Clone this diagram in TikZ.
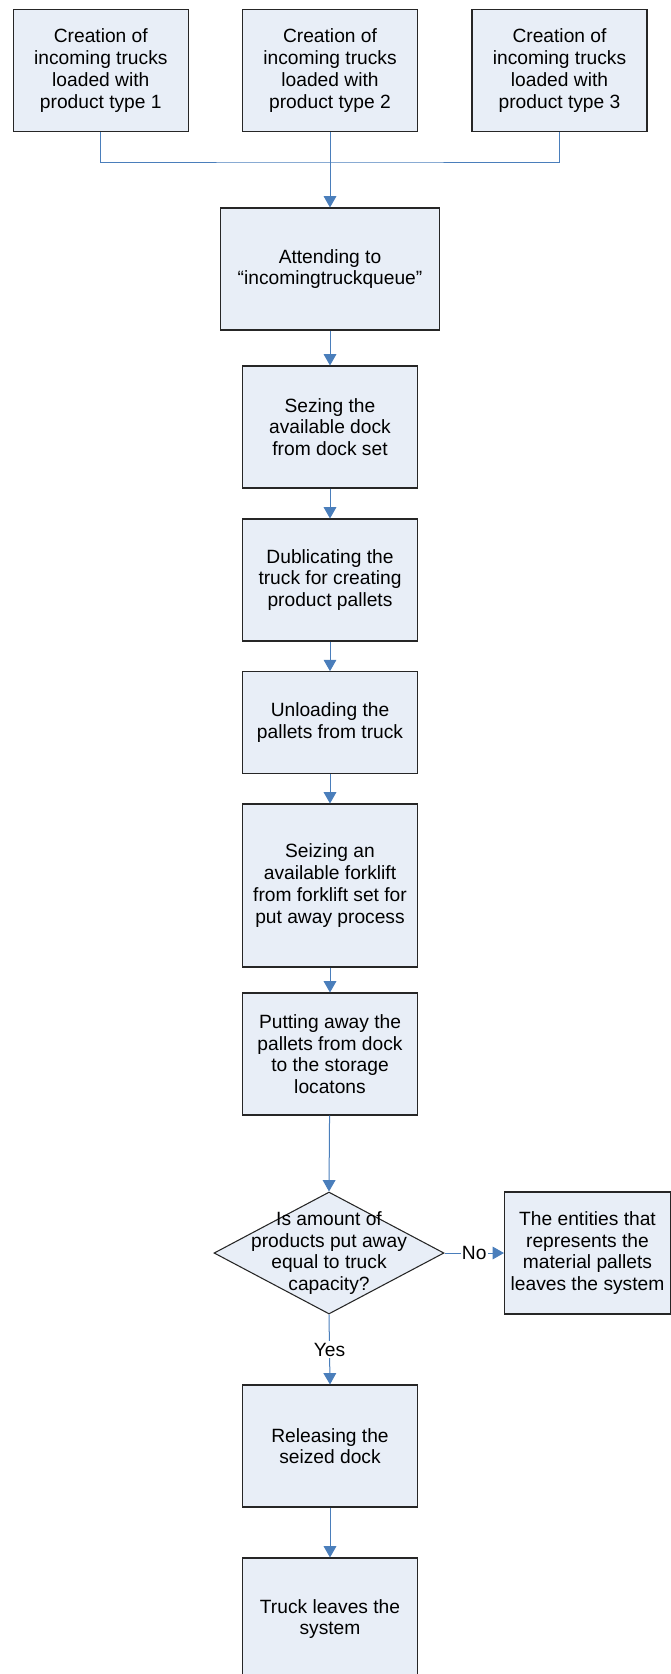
\documentclass[tikz,border=0pt]{standalone}
\usepackage{fontspec}
\setmainfont{Liberation Sans}
\usetikzlibrary{shapes.geometric,arrows.meta}
\definecolor{boxfill}{RGB}{232,238,247}
\definecolor{flowblue}{RGB}{74,126,187}

\begin{document}
\begin{tikzpicture}[x=0.75pt, y=-0.75pt,
    every node/.style={font=\fontsize{14.4}{16.3}\selectfont},
    process/.style={rectangle, draw=black!85, line width=0.8pt, fill=boxfill, align=center,
        minimum width=131.25pt, minimum height=91.5pt, inner sep=0pt},
    decision/.style={diamond, draw=black!85, line width=0.8pt, fill=boxfill,
        minimum width=172.5pt, minimum height=91.5pt, inner sep=0pt},
    link/.style={draw=flowblue, line width=0.75pt},
    flow/.style={link, -{Triangle[length=8.5pt, width=9.5pt]}}]
                \useasboundingbox (0,0) rectangle (671,1674);
                \clip (0,0) rectangle (671,1674);

                % Define nodes
                \node[process] (type1) at (100.8,70.5) {Creation of\\incoming trucks\\loaded with\\product type 1};
                \node[process] (type2) at (330,70.5) {Creation of\\incoming trucks\\loaded with\\product type 2};
                \node[process] (type3) at (559.5,70.5) {Creation of\\incoming trucks\\loaded with\\product type 3};
                \coordinate (join) at (330,162);
                \node[process, minimum width=164.25pt] (attend) at (330,269) {Attending to\\“incomingtruckqueue”};
                \node[process] (seize) at (330,427) {Sezing the\\available dock\\from dock set};
                \node[process] (dublicate) at (330,580) {Dublicating the\\truck for creating\\product pallets};
                \node[process, minimum height=76.5pt] (unload) at (330,722.7) {Unloading the\\pallets from truck};
                \node[process, minimum height=122.25pt] (forklift) at (330,885.5) {Seizing an\\available forklift\\from forklift set for\\put away process};
                \node[process] (putaway) at (330,1054) {Putting away the\\pallets from dock\\to the storage\\locatons};
                \node[decision] (check) at (329,1253) {};
                \node[align=center] (checktext) at (check) {Is amount of\\products put away\\equal to truck\\capacity?};
                \node[process, minimum width=124.5pt] (exit) at (587.5,1253) {The entities that\\represents the\\material pallets\\leaves the system};
                \node[process] (release) at (330,1446) {Releasing the\\seized dock};
                \node[process] (leave) at (330,1619) {Truck leaves the\\system};

                % Draw the edges
                \draw[link] (type1.south) |- (join) -| (type3.south);
                \draw[flow] (type2.south) -- (attend.north);
                \draw[flow] (attend) -- (seize);
                \draw[flow] (seize) -- (dublicate);
                \draw[flow] (dublicate) -- (unload);
                \draw[flow] (unload) -- (forklift);
                \draw[flow] (forklift) -- (putaway);
                \draw[flow] (putaway) -- (check.north);
                \draw[flow] (check.east) -- node[fill=white, inner sep=1pt] {No} (exit.west);
                \draw[flow] (check.south) -- node[fill=white, inner sep=1pt] {Yes} (release.north);
                \draw[flow] (release) -- (leave);
            \end{tikzpicture}
\end{document}
